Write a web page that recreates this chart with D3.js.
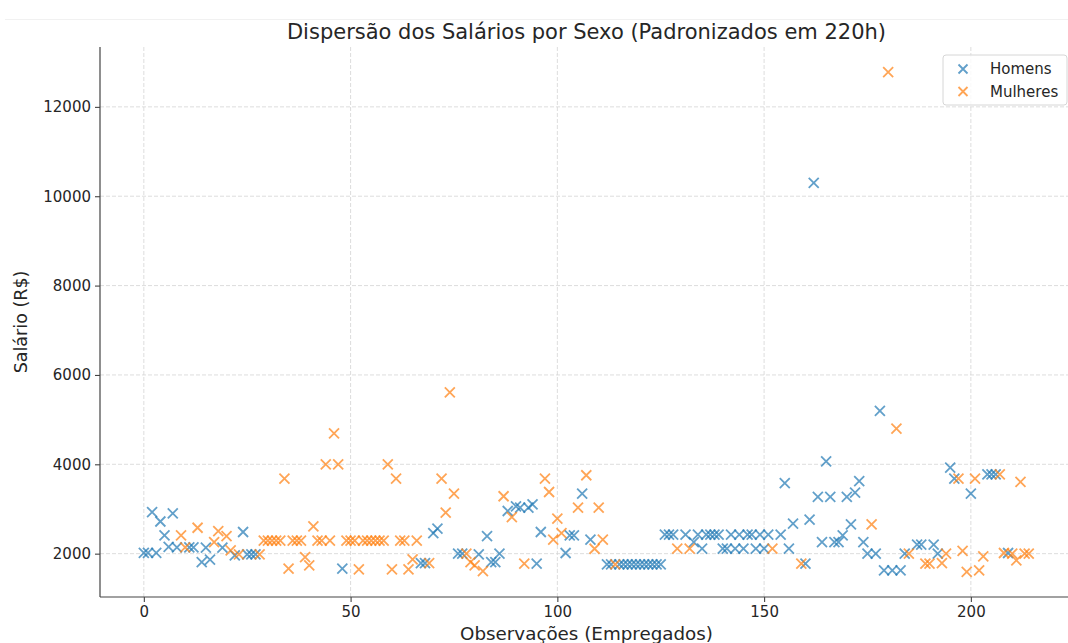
<!DOCTYPE html>
<html>
<head>
<meta charset="utf-8">
<script src="https://cdn.jsdelivr.net/npm/d3@7"></script>
<style>
  body { margin: 0; background: #fff; }
  svg { font-family: "DejaVu Sans", sans-serif; }
</style>
</head>
<body>
<svg id="chart" width="1068" height="643"></svg>
<script>
// observação (índice) e salário padronizado em 220h
const homens = [
  [0,2020],[1,2020],[2,2930],[3,2020],[4,2720],[5,2410],[6,2150],[7,2900],[8,2140],
  [11,2140],[12,2140],[14,1810],[15,2135],[16,1865],[19,2135],[22,1960],[24,2485],
  [25,1985],[26,1985],[27,1985],[48,1665],[67,1790],[68,1790],[70,2460],[71,2560],
  [76,2000],[77,2000],[81,1985],[83,2390],[84,1810],[85,1810],[86,2000],[88,2955],
  [90,3060],[91,3030],[93,3030],[94,3105],[95,1775],[96,2485],[102,2015],[103,2410],
  [104,2410],[106,3345],[108,2315],
  [112,1760],[113,1760],[115,1760],[116,1760],[117,1760],[118,1760],[119,1760],
  [120,1760],[121,1760],[122,1760],[123,1760],[124,1760],[125,1760],
  [126,2425],[127,2425],[128,2425],[131,2425],[133,2260],[134,2425],[135,2115],
  [136,2425],[137,2425],[138,2425],[139,2425],[140,2115],[141,2115],[142,2425],
  [143,2115],[144,2425],[145,2115],[146,2425],[147,2425],[148,2115],[149,2425],
  [150,2115],[151,2425],[154,2425],[155,3580],[156,2115],[157,2670],[160,1775],
  [161,2760],[162,10300],[163,3270],[164,2260],[165,4065],[166,3270],[167,2260],
  [168,2260],[169,2410],[170,3270],[171,2655],[172,3365],[173,3625],[174,2260],
  [175,2000],[177,2000],[178,5195],[179,1625],[181,1625],[183,1625],[184,2000],
  [187,2200],[188,2200],[191,2200],[192,2000],[195,3925],[196,3680],[200,3345],
  [204,3775],[205,3775],[206,3775],[209,2015]
];

const mulheres = [
  [9,2410],[10,2140],[13,2580],[17,2260],[18,2505],[20,2390],[21,2075],[23,1985],
  [28,1985],[29,2290],[30,2290],[31,2290],[32,2290],[33,2290],[34,3680],[35,1665],
  [36,2290],[37,2290],[38,2290],[39,1925],[40,1740],[41,2610],[42,2290],[43,2290],
  [44,4000],[45,2290],[46,4690],[47,4000],[49,2290],[50,2290],[51,2290],[52,1650],
  [53,2290],[54,2290],[55,2290],[56,2290],[57,2290],[58,2290],[59,4000],[60,1650],
  [61,3680],[62,2290],[63,2290],[64,1650],[65,1870],[66,2290],[69,1790],[72,3680],
  [73,2920],[74,5610],[75,3345],[78,2000],[79,1810],[80,1740],[82,1610],[87,3285],
  [89,2820],[92,1775],[97,3680],[98,3380],[99,2315],[100,2785],[101,2460],[105,3030],
  [107,3755],[109,2110],[110,3030],[111,2315],[114,1760],[129,2115],[132,2115],
  [152,2115],[159,1775],[176,2655],[180,12780],[182,4800],[185,2000],[189,1775],
  [190,1775],[193,1790],[194,2000],[197,3680],[198,2060],[199,1590],[201,3680],
  [202,1625],[203,1940],[207,3775],[208,2015],[210,2000],[211,1850],[212,3605],
  [213,2000],[214,2000]
];

const xTicks = [0, 50, 100, 150, 200];
const yTicks = [2000, 4000, 6000, 8000, 10000, 12000];
const series = [
  { nome: "Homens", dados: homens, cor: "#1f77b4" },
  { nome: "Mulheres", dados: mulheres, cor: "#ff7f0e" }
];

const svg = d3.select("#chart");
const m = { left: 100, top: 47, right: 1073, bottom: 597 };

const x = d3.scaleLinear().domain([-10.6, 224.7]).range([m.left, m.right]);
const y = d3.scaleLinear().domain([1030, 13340]).range([m.bottom, m.top]);

svg.append("rect").attr("width", 1068).attr("height", 643).attr("fill", "#fff");
// borda fraca do print
svg.append("line").attr("x1", 5).attr("x2", 1068).attr("y1", 19.5).attr("y2", 19.5)
  .attr("stroke", "#f1f1f1");

// grade tracejada
const grid = svg.append("g").attr("stroke", "#d4d4d4").attr("stroke-width", 0.8)
  .attr("stroke-dasharray", "4,2");
grid.selectAll(".gx").data(xTicks).join("line")
  .attr("x1", d => x(d)).attr("x2", d => x(d))
  .attr("y1", m.top).attr("y2", m.bottom);
grid.selectAll(".gy").data(yTicks).join("line")
  .attr("x1", m.left).attr("x2", m.right)
  .attr("y1", d => y(d)).attr("y2", d => y(d));

// eixos
const ax = svg.append("g").attr("transform", `translate(0,${m.bottom})`)
  .call(d3.axisBottom(x).tickValues(xTicks).tickSize(5).tickPadding(4).tickFormat(d3.format("d")));
const ay = svg.append("g").attr("transform", `translate(${m.left},0)`)
  .call(d3.axisLeft(y).tickValues(yTicks).tickSize(5).tickPadding(4).tickFormat(d3.format("d")));

[ax, ay].forEach(g => {
  g.select(".domain").attr("stroke", "#444").attr("stroke-width", 1.2);
  g.selectAll(".tick line").attr("stroke", "#444").attr("stroke-width", 1.1);
  g.selectAll(".tick text").attr("fill", "#262626").style("font-size", "15px")
    .style("font-family", "DejaVu Sans");
});
ax.select(".domain").attr("d", `M${m.left},0H${m.right}`);
ay.select(".domain").attr("d", `M0,${m.bottom}V${m.top}`);

// marcadores x
const marca = "M-5,-5L5,5M-5,5L5,-5";
series.forEach(s => {
  svg.append("g").selectAll("path").data(s.dados).join("path")
    .attr("d", marca)
    .attr("transform", d => `translate(${x(d[0])},${y(d[1])})`)
    .attr("stroke", s.cor).attr("stroke-width", 1.8).attr("fill", "none")
    .attr("opacity", 0.7);
});

// títulos
svg.append("text").attr("x", (m.left + m.right) / 2).attr("y", 39)
  .attr("text-anchor", "middle").attr("fill", "#262626").style("font-size", "21px")
  .text("Dispersão dos Salários por Sexo (Padronizados em 220h)");
svg.append("text").attr("x", (m.left + m.right) / 2).attr("y", 640)
  .attr("text-anchor", "middle").attr("fill", "#262626").style("font-size", "18.3px")
  .text("Observações (Empregados)");
svg.append("text").attr("transform", `translate(27,${(m.top + m.bottom) / 2}) rotate(-90)`)
  .attr("text-anchor", "middle").attr("fill", "#262626").style("font-size", "17.5px")
  .text("Salário (R$)");

// legenda
const leg = svg.append("g").attr("transform", "translate(943,55)");
leg.append("rect").attr("width", 124).attr("height", 50).attr("rx", 3)
  .attr("fill", "#fff").attr("fill-opacity", 0.8).attr("stroke", "#d6d6d6");
series.forEach((s, i) => {
  const row = leg.append("g").attr("transform", `translate(20,${14 + i * 22.5})`);
  row.append("path").attr("d", "M-4.5,-4.5L4.5,4.5M-4.5,4.5L4.5,-4.5")
    .attr("stroke", s.cor).attr("stroke-width", 1.8).attr("opacity", 0.7);
  row.append("text").attr("x", 27).attr("y", 5).attr("fill", "#262626")
    .style("font-size", "15px").text(s.nome);
});
</script>
</body>
</html>
